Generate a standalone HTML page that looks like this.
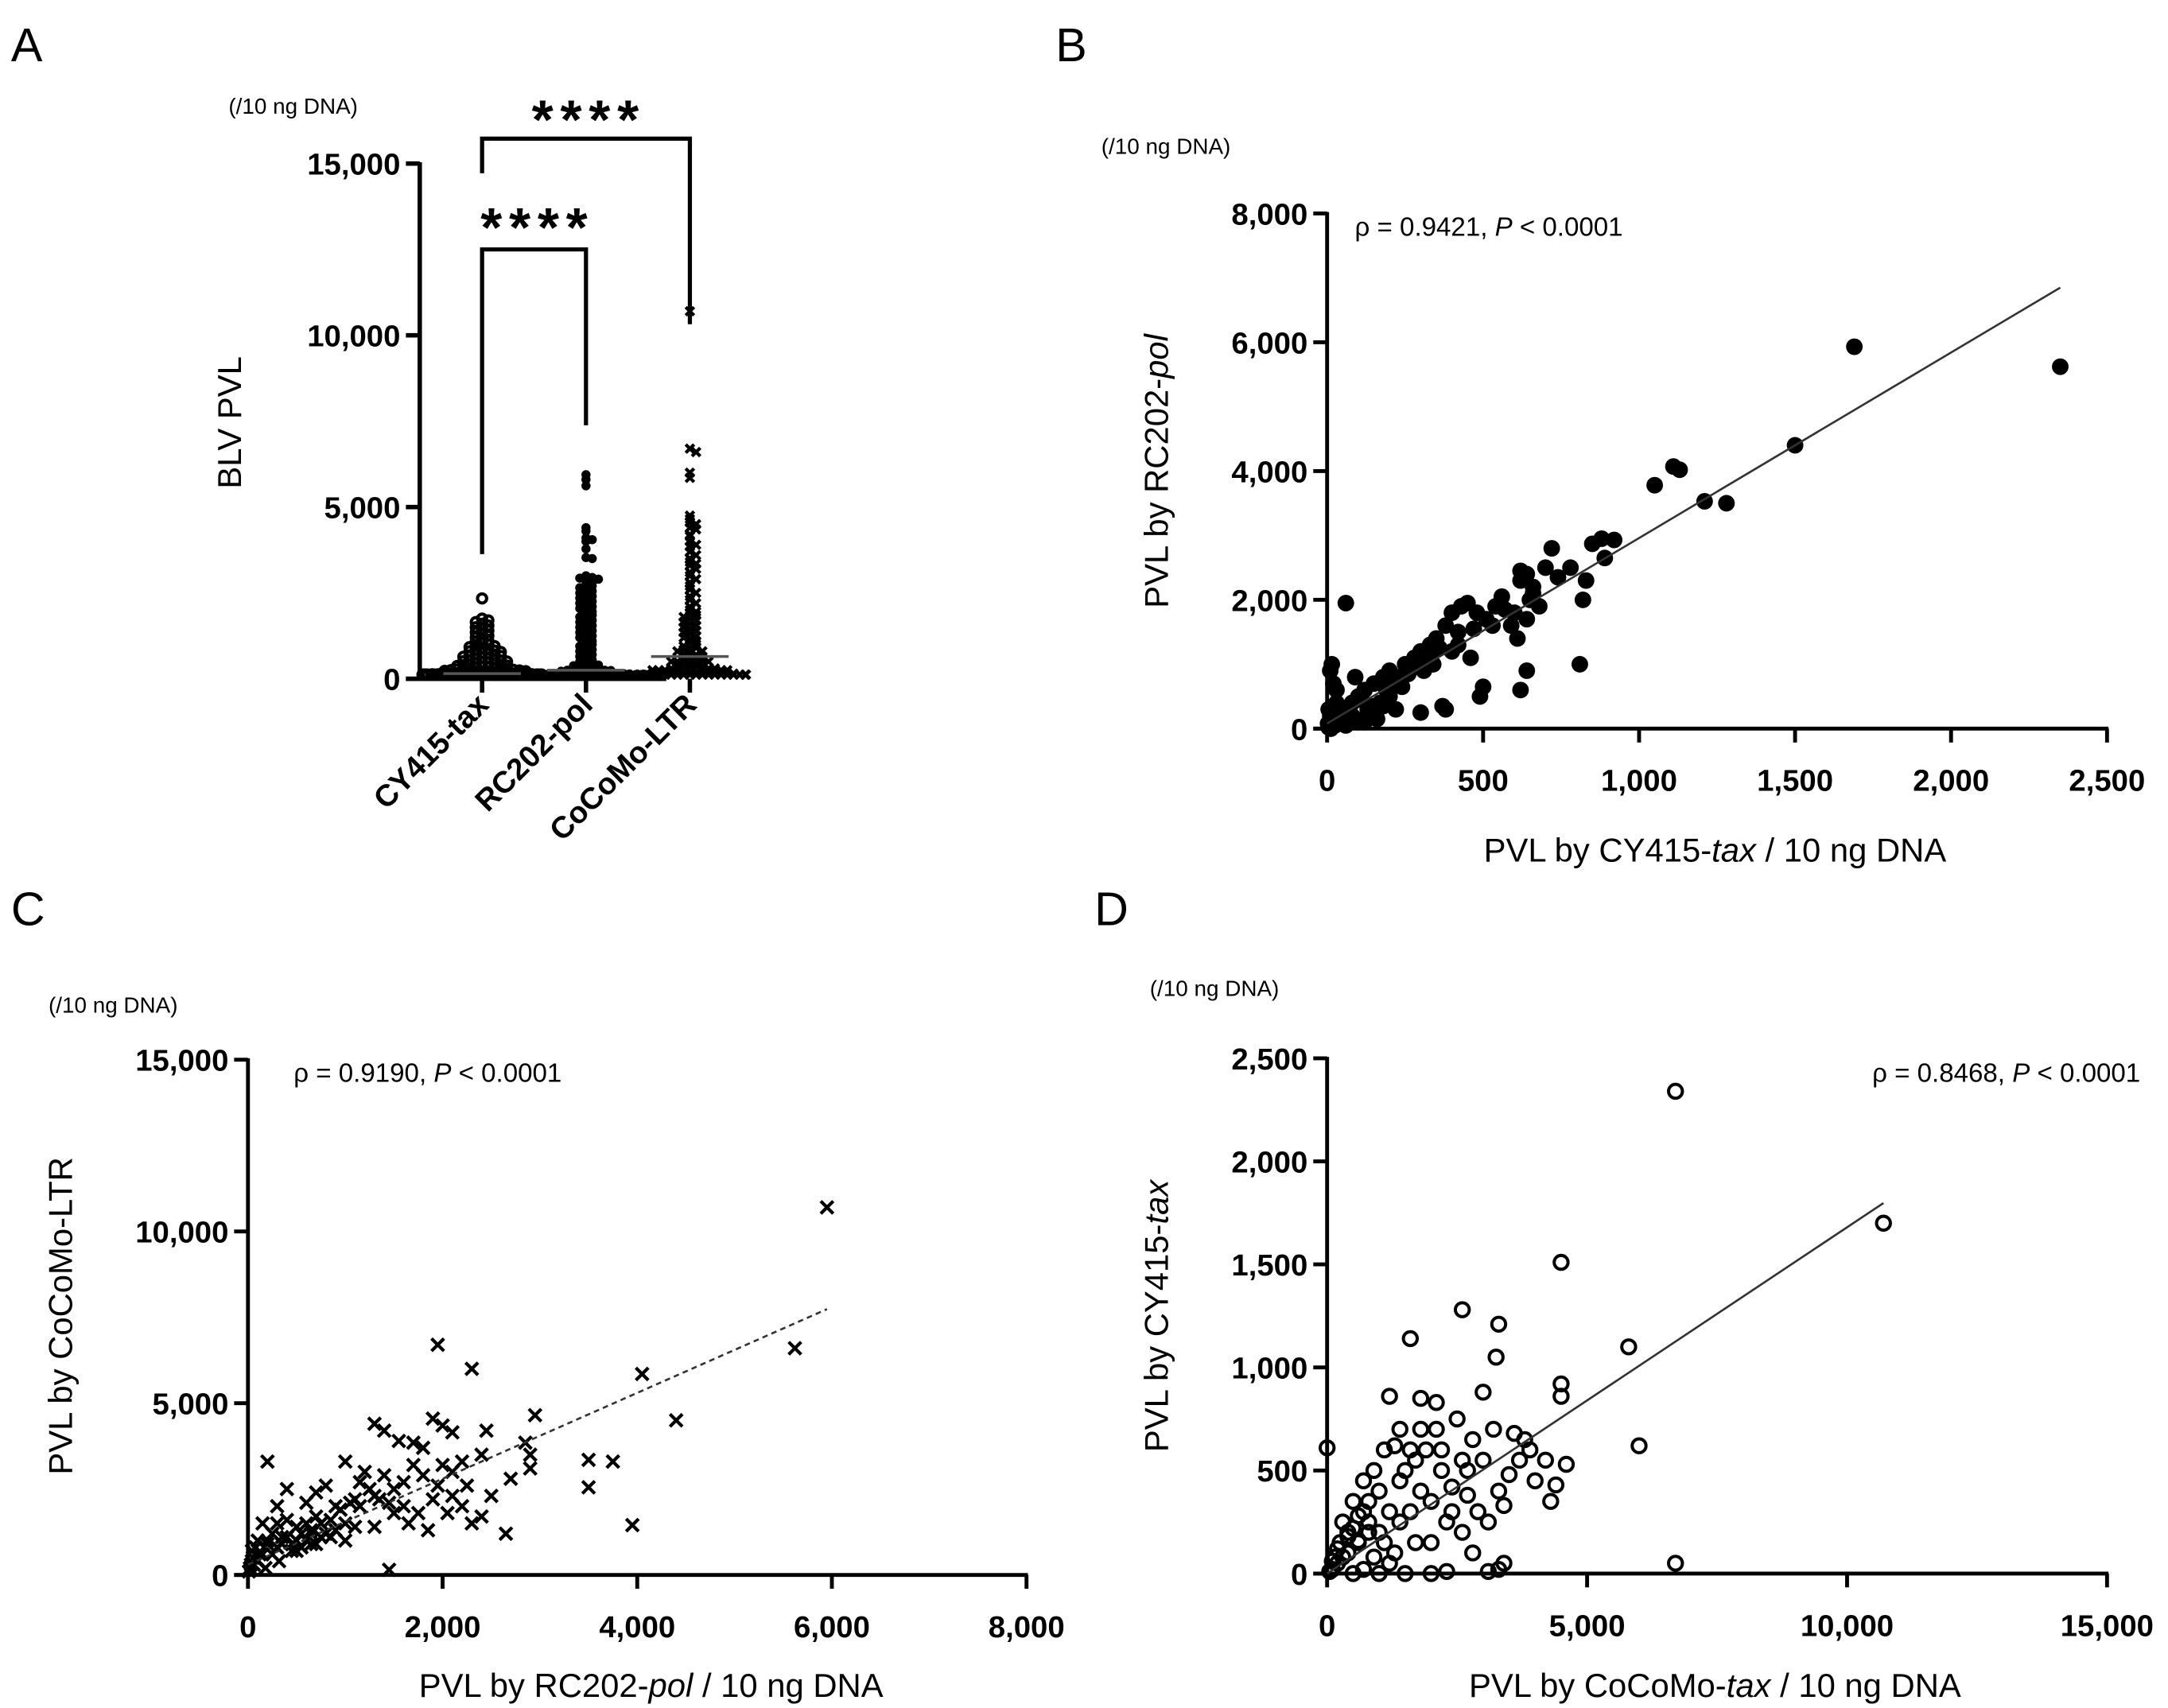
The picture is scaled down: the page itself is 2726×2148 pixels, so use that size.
<!DOCTYPE html>
<html><head><meta charset="utf-8"><style>
html,body{margin:0;padding:0;background:#fff}
svg{display:block}
text{font-family:"Liberation Sans",Arial,sans-serif;fill:#000}
.tk{font-weight:bold;font-size:22px}
.ttl{font-size:24px}
.unit{font-size:16px}
.rho{font-size:19px}
.pl{font-size:34px}
</style></head><body>
<svg id="fig" width="2726" height="2148" viewBox="0 0 1565 1233" xmlns="http://www.w3.org/2000/svg">
<g id="A"></g>
<g id="B"></g>
<g id="C"></g>
<g id="D"></g>
</svg>
<script>
// ---------- Panel A data ----------
const aCategories = ["CY415-tax","RC202-pol","CoCoMo-LTR"];
const aYTicks = [0,5000,10000,15000];
const aYTickLabels = ["0","5,000","10,000","15,000"];
const aTax = [2340,1750,1700,1650,1600,1550,1500,1450,1400,1350,1300,1250,1200,1150,1100,1080,1050,1000,980,950,920,900,870,850,820,800,780,760,740,720,700,680,660,640,620,600,580,560,540,530,510,500,480,470,450,440,420,410,400,380,370,350,340,330,320,310,300,290,280,270,260,250,240,230,220,210,200,190,180,170,160,150,140,130,120,110,100,90,80,70,60,50,40,30,20,10,5,200,180,160,150,140,130,120,110,100,90,80,70,60,50,40,30,20,10,5,0,150,120,100,80,60,40,20,10,0,130,110,90,70,50,30,15,5,0,100,80,60,40,20,0,90,70,50,30,10,0,60,40,20,0,100,80,60,40,20,0,100,80,60,40,20,0,90,70,50,30,10,0,90,70,50,30,10,0,60,40,20,0,60,40,20,0];
const aPol = [5940,5800,5620,4400,4300,4100,4050,4000,3780,3530,3500,3000,2950,2930,2900,2870,2800,2750,2700,2650,2600,2550,2500,2450,2400,2350,2300,2250,2200,2150,2100,2050,2000,1950,1900,1850,1800,1750,1700,1650,1600,1550,1500,1450,1400,1350,1300,1250,1200,1150,1100,1050,1000,950,900,850,800,750,700,650,600,550,500,450,400,350,300,250,200,150,100,50,0,480,420,380,320,280,240,200,180,160,140,120,100,80,60,40,20,10,0,300,250,200,150,120,100,80,60,40,20,0,220,180,140,100,60,30,0,200,160,120,80,40,0,150,100,50,0,150,100,50,0,120,80,40,0,120,80,40,0,100,60,20,0,100,60,20,0];
const aLtr = [10700,6700,6600,6000,5850,4750,4650,4550,4500,4400,4350,4200,4150,4000,3900,3850,3700,3600,3500,3400,3350,3300,3200,3100,3000,2900,2800,2700,2600,2500,2400,2300,2200,2100,2000,1950,1900,1850,1800,1750,1700,1650,1600,1550,1500,1450,1400,1350,1300,1250,1200,1150,1100,1050,1000,950,900,850,800,750,700,650,600,550,500,450,400,350,300,250,200,150,100,50,0,900,800,700,600,550,500,450,400,350,300,250,200,150,100,50,0,500,400,300,250,200,150,100,50,0,350,300,250,200,150,100,50,0,300,200,100,50,0,250,150,80,0,200,120,60,0,200,120,60,0,150,80,0,150,80,0];
const aMedians = [150,250,650];

// ---------- Panel B data ----------
const bXTicks=[0,500,1000,1500,2000,2500];
const bXTickLabels=["0","500","1,000","1,500","2,000","2,500"];
const bYTicks=[0,2000,4000,6000,8000];
const bYTickLabels=["0","2,000","4,000","6,000","8,000"];
const bX=[2350,1690,1500,1110,1130,1050,1210,1280,880,920,850,890,720,780,740,620,640,660,680,830,820,810,640,620,500,490,560,600,530,430,450,400,380,350,330,300,280,250,200,180,150,120,100,80,60,40,20,10,5,30,10,15,60,90,170,220,300,370,380,260,340,420,470,510,570,590,610,640,660,700,460,400,310,240,200,130,90,50,25,70,110,150,190,230,270,320,360,420,480,540,620,650,30,20,45,5,12,3,160,120,10,20,30,40,60,80,100,140,180,210,290,330];
const bY=[5620,5930,4400,4070,4020,3780,3530,3500,2950,2930,2870,2650,2800,2500,2350,2450,2400,2200,1900,2300,2000,1000,900,600,650,500,2050,1800,1600,1900,1950,1800,1600,1400,1300,1200,1100,1000,900,800,700,600,500,400,300,200,100,50,20,600,900,1000,1950,800,400,300,250,350,300,850,1000,1300,1550,1700,1850,1600,1400,1700,2100,2500,1100,1200,900,650,500,300,150,100,50,250,450,350,600,800,950,1100,1250,1500,1800,1900,2300,2000,400,700,150,300,0,80,150,100,200,350,150,250,50,200,100,250,350,700,1100,1150];
const bFit=[80,2.88];

// ---------- Panel C data ----------
const cXTicks=[0,2000,4000,6000,8000];
const cXTickLabels=["0","2,000","4,000","6,000","8,000"];
const cYTicks=[0,5000,10000,15000];
const cYTickLabels=["0","5,000","10,000","15,000"];
const cX=[5950,5620,4050,4400,3500,3750,3500,3950,1950,2300,2950,2850,2900,2650,1450,1900,2000,2100,2450,1300,1400,1550,1700,1800,2200,2400,2000,1800,1600,1500,1300,1100,900,700,600,500,400,300,200,150,100,80,50,30,20,10,250,350,450,550,650,750,850,950,1050,1150,1250,1350,1450,1600,1750,1900,2050,2200,2300,2400,2250,2100,1950,1700,1200,1000,800,700,600,400,300,200,120,60,40,180,320,500,1000,1300,1500,1650,2500,2700,2900,1850,2100,1400,1150,650,850,100,150,200,250,300,350,400,450,500,550,600,650,700,750,800,900,1000,1100];
const cY=[10700,6600,5850,4500,3350,3300,2550,1450,6700,6000,4650,3850,3100,1200,150,4550,4350,4150,4200,4400,4200,3900,3850,3700,3300,3500,3200,2900,2700,2500,2300,2200,2000,1700,1500,1400,2500,2000,3300,1500,1000,800,500,300,200,100,1200,1100,900,1200,1300,1500,1600,1900,2100,2000,2500,2200,2100,2000,1800,2200,1800,2000,1500,1700,2600,3000,2600,3200,3000,3300,2600,2400,2100,1600,1500,1000,600,300,700,200,400,700,1000,1400,1800,1500,2300,2800,3500,1300,2300,2900,2700,900,1100,400,600,900,600,800,900,1100,700,1000,800,1000,1200,900,1100,1200,1300,1500,1400];
const cFit=[300,1.25];

// ---------- Panel D data ----------
const dXTicks=[0,5000,10000,15000];
const dXTickLabels=["0","5,000","10,000","15,000"];
const dYTicks=[0,500,1000,1500,2000,2500];
const dYTickLabels=["0","500","1,000","1,500","2,000","2,500"];
const dX=[6700,10700,4500,2600,3300,3250,1600,5800,4500,4500,3000,6000,6700,3300,3400,3100,2000,2300,1500,0,1800,2100,1200,1400,3800,3900,4300,4400,4200,4600,3500,2800,2600,2400,2200,2000,1800,1600,1400,1200,1000,800,600,400,200,100,50,300,500,700,900,1100,1300,1500,1700,1900,2100,2500,2700,2900,3100,3300,3600,3700,4000,2300,2000,1700,1300,900,1000,800,600,400,250,150,1100,1400,1600,1800,2200,2400,2600,2800,1000,500,700,1200,3000,3200,3400,2700,100,200,300,400,500,600,700,800];
const dY=[2340,1700,1510,1280,1210,1050,1140,1100,920,860,880,620,50,20,50,10,0,10,0,610,850,830,860,700,650,600,350,430,550,530,480,650,550,420,500,350,400,300,250,300,200,250,150,100,50,20,10,250,350,450,500,600,620,500,550,600,700,750,380,300,250,400,680,550,450,250,150,150,100,80,400,350,280,200,150,80,150,450,600,700,600,300,200,100,0,0,20,50,550,700,330,500,60,120,80,180,220,160,300,200];
const dFit=[0,0.168];

const NS="http://www.w3.org/2000/svg";
function mk(parent,tag,attrs,txt){const e=document.createElementNS(NS,tag);for(const k in attrs)e.setAttribute(k,attrs[k]);if(txt!==undefined)e.textContent=txt;parent.appendChild(e);return e;}
function lin(d0,d1,r0,r1){return v=>r0+(v-d0)*(r1-r0)/(d1-d0);}

function axes(g,o){
  const sw=o.sw||2.6;
  let e=mk(g,'line',{x1:o.x0,y1:o.yTop-1,x2:o.x0,y2:o.y0,stroke:'#000','stroke-width':sw});
  
  if(o.xr){e=mk(g,'line',{x1:o.x0-o.tl,y1:o.y0,x2:o.xr+1,y2:o.y0,stroke:'#000','stroke-width':sw});
  }
  o.yTicks.forEach((t,i)=>{const y=o.ys(t);
    e=mk(g,'line',{x1:o.x0-o.tl,y1:y,x2:o.x0,y2:y,stroke:'#000','stroke-width':sw});
    
    e=mk(g,'text',{x:o.x0-o.tl-4,y:y+8,'text-anchor':'end',class:'tk'},o.yLabels[i]);
    });
  if(o.xTicks)o.xTicks.forEach((t,i)=>{const x=o.xs(t);
    e=mk(g,'line',{x1:x,y1:o.y0,x2:x,y2:o.y0+o.tl,stroke:'#000','stroke-width':sw});
    
    e=mk(g,'text',{x:x,y:o.y0+o.tl+35,'text-anchor':'middle',class:'tk'},o.xLabels[i]);
    });
}
function txt(g,x,y,cls,s,name,anchor,rot){const a={x:x,y:y,class:cls,'text-anchor':anchor||'start'};if(rot)a.transform=`rotate(${rot} ${x} ${y})`;const e=mk(g,'text',a);e.innerHTML=s;return e;}

function marker(g,type,x,y,r){let e;
  if(type==='dot')e=mk(g,'circle',{cx:x,cy:y,r:r,fill:'#000'});
  else if(type==='ring')e=mk(g,'circle',{cx:x,cy:y,r:r,fill:'none',stroke:'#000','stroke-width':2.3});
  else{e=mk(g,'path',{d:`M${x-r} ${y-r}L${x+r} ${y+r}M${x-r} ${y+r}L${x+r} ${y-r}`,stroke:'#000','stroke-width':2.4,fill:'none'});}
  return e;}

// ----- Panel A -----
(function(){const g=document.getElementById('A');
  const x0=303,y0=490,yTop=118;const ys=lin(0,15000,y0,yTop);
  const catX=[348,423,498];
  axes(g,{x0,y0,yTop,xr:480,tl:10,sw:3.2,ys,yTicks:aYTicks,yLabels:aYTickLabels});
  catX.forEach((cx,i)=>{let e=mk(g,'line',{x1:cx,y1:y0,x2:cx,y2:y0+10,stroke:'#000','stroke-width':3.2});
    
    txt(g,cx+6,y0+20,'tk',aCategories[i],'category-label','end',-45);});
  const sets=[aTax,aPol,aLtr],types=['ring','dot','x'];
  sets.forEach((vals,si)=>{const sg=mk(g,'g',{});
    const bins={};const sorted=vals.slice().sort((a,b)=>b-a);
    sorted.forEach(v=>{const y=ys(v);const b=Math.round(y/3.5);bins[b]=(bins[b]||0)+1;const k=bins[b]-1;
      let off=(k===0)?0:(k%2?1:-1)*Math.ceil(k/2)*4.5;
      if(Math.abs(off)>44)off=((k*13)%88)-44;
      marker(sg,types[si],catX[si]+off,Math.min(y,y0-3),types[si]==='x'?3:3.3);});
    let e=mk(g,'line',{x1:catX[si]-28,y1:ys(aMedians[si]),x2:catX[si]+28,y2:ys(aMedians[si]),stroke:'#555','stroke-width':2});
    });
  let e=mk(g,'path',{d:'M348 400V180H423V307',fill:'none',stroke:'#000','stroke-width':3});
  
  e=mk(g,'path',{d:'M348 125V100H498V234',fill:'none',stroke:'#000','stroke-width':3});
  
  txt(g,388,178,'tk','****','significance-stars-1','middle').setAttribute('style','font-size:40px;letter-spacing:5px');
  txt(g,425,100,'tk','****','significance-stars-2','middle').setAttribute('style','font-size:40px;letter-spacing:5px');
  txt(g,165,82,'unit','(/10 ng DNA)','y-unit-label');
  txt(g,174,305,'ttl','BLV PVL','y-axis-title','middle',-90);
  txt(g,8,44,'pl','A','panel-label');
})();

function scatter(id,o){const g=document.getElementById(id);
  const xs=lin(0,o.xMax,o.x0,o.xr),ys=lin(0,o.yMax,o.y0,o.yTop);
  axes(g,{x0:o.x0,y0:o.y0,yTop:o.yTop,xr:o.xr,tl:10,sw:2.8,ys,xs,yTicks:o.yTicks,yLabels:o.yLabels,xTicks:o.xTicks,xLabels:o.xLabels});
  const pg=mk(g,'g',{});
  o.X.forEach((v,i)=>marker(pg,o.type,xs(v),ys(o.Y[i]),o.r));
  const f=o.fit;let e=mk(g,'line',{x1:xs(o.fitX0),y1:ys(f[0]+f[1]*o.fitX0),x2:xs(o.fitX1),y2:ys(f[0]+f[1]*o.fitX1),stroke:'#333','stroke-width':1.5,'stroke-dasharray':o.dash||'none'});
  
  txt(g,o.rho[0],o.rho[1],'rho',o.rhoText,'correlation-annotation',o.rho[2]);
  txt(g,o.xt[0],o.xt[1],'ttl',o.xTitle,'x-axis-title','middle');
  txt(g,o.yt[0],o.yt[1],'ttl',o.yTitle,'y-axis-title','middle',-90);
  txt(g,o.unit[0],o.unit[1],'unit','(/10 ng DNA)','y-unit-label');
  txt(g,o.pl[0],o.pl[1],'pl',o.plText,'panel-label');
}
scatter('B',{x0:958,y0:526,yTop:154,xr:1521,xMax:2500,yMax:8000,xTicks:bXTicks,xLabels:bXTickLabels,yTicks:bYTicks,yLabels:bYTickLabels,X:bX,Y:bY,type:'dot',r:6,fit:bFit,fitX0:0,fitX1:2350,
  rho:[978,170],rhoText:'ρ = 0.9421, <tspan font-style="italic">P</tspan> &lt; 0.0001',xt:[1238,622],xTitle:'PVL by CY415-<tspan font-style="italic">tax</tspan> / 10 ng DNA',yt:[843,340],yTitle:'PVL by RC202-<tspan font-style="italic">pol</tspan>',unit:[795,111],pl:[762,44],plText:'B'});
scatter('C',{x0:179,y0:1137,yTop:765,xr:741,xMax:8000,yMax:15000,xTicks:cXTicks,xLabels:cXTickLabels,yTicks:cYTicks,yLabels:cYTickLabels,X:cX,Y:cY,type:'x',r:4.5,fit:cFit,fitX0:0,fitX1:5950,dash:'4 3',
  rho:[212,781],rhoText:'ρ = 0.9190, <tspan font-style="italic">P</tspan> &lt; 0.0001',xt:[470,1225],xTitle:'PVL by RC202-<tspan font-style="italic">pol</tspan> / 10 ng DNA',yt:[52,950],yTitle:'PVL by CoCoMo-LTR',unit:[35,731],pl:[8,668],plText:'C'});
scatter('D',{x0:958,y0:1136,yTop:764,xr:1521,xMax:15000,yMax:2500,xTicks:dXTicks,xLabels:dXTickLabels,yTicks:dYTicks,yLabels:dYTickLabels,X:dX,Y:dY,type:'ring',r:5,fit:dFit,fitX0:0,fitX1:10700,
  rho:[1545,781,'end'],rhoText:'ρ = 0.8468, <tspan font-style="italic">P</tspan> &lt; 0.0001',xt:[1238,1225],xTitle:'PVL by CoCoMo-<tspan font-style="italic">tax</tspan> / 10 ng DNA',yt:[843,950],yTitle:'PVL by CY415-<tspan font-style="italic">tax</tspan>',unit:[830,719],pl:[790,668],plText:'D'});
</script>
</body></html>
